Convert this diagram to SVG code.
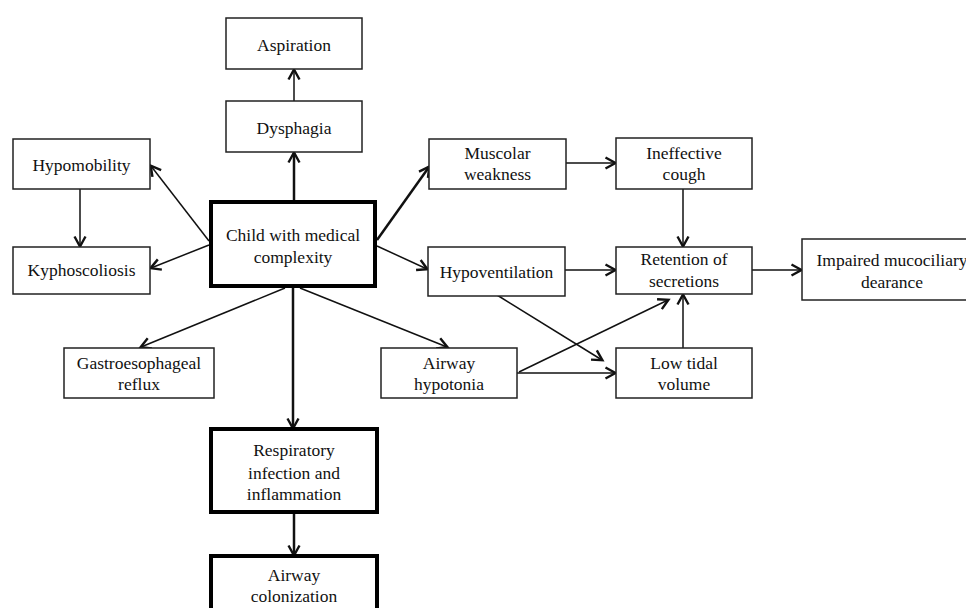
<svg xmlns="http://www.w3.org/2000/svg" width="966" height="608" viewBox="0 0 966 608">
<defs>
<marker id="arr" markerUnits="userSpaceOnUse" markerWidth="14" markerHeight="14" refX="9.5" refY="5.5" orient="auto" overflow="visible">
<path d="M0,0 L10,5.5 L0,11" fill="none" stroke="#111" stroke-width="2.4"/>
</marker>
<style>
.box{fill:#fff;stroke:#222;stroke-width:1.5}
.thick{fill:#fff;stroke:#000;stroke-width:4}
text{font-family:"Liberation Serif","Times New Roman",serif;font-size:17.5px;fill:#111;text-anchor:middle}
.c line{stroke:#111;stroke-width:1.5;marker-end:url(#arr)}
.c line.w{stroke-width:2.5}
</style>
</defs>
<rect width="966" height="608" fill="#fff"/>
<g class="c" id="connectors">
<line x1="294" y1="101" x2="294" y2="70"/>
<line class="w" x1="294" y1="200" x2="294" y2="153"/>
<line x1="80" y1="189" x2="80" y2="246"/>
<line x1="209" y1="241" x2="151" y2="166"/>
<line x1="209" y1="245" x2="151" y2="268"/>
<line class="w" x1="377" y1="240" x2="429" y2="167"/>
<line x1="377" y1="246" x2="427" y2="269"/>
<line x1="285" y1="288" x2="141" y2="347"/>
<line x1="300" y1="288" x2="447" y2="347"/>
<line class="w" x1="293" y1="288" x2="293" y2="428"/>
<line class="w" x1="294" y1="514" x2="294" y2="555"/>
<line x1="566" y1="163" x2="615" y2="163"/>
<line x1="683" y1="189" x2="683" y2="246"/>
<line x1="565" y1="270" x2="615" y2="270"/>
<line x1="752" y1="270" x2="801" y2="270"/>
<line x1="497" y1="295" x2="602" y2="360"/>
<line x1="519" y1="372" x2="668" y2="300"/>
<line x1="517" y1="373" x2="615" y2="373"/>
<line x1="683" y1="348" x2="683" y2="295"/>
</g>
<g id="aspiration"><rect class="box" x="226" y="18" width="136" height="51"/><text x="294" y="51">Aspiration</text></g>
<g id="dysphagia"><rect class="box" x="226" y="101" width="136" height="51"/><text x="294" y="134">Dysphagia</text></g>
<g id="hypomobility"><rect class="box" x="13" y="139" width="137" height="50"/><text x="81.5" y="171">Hypomobility</text></g>
<g id="kyphoscoliosis"><rect class="box" x="13" y="247" width="137" height="47"/><text x="81.5" y="276">Kyphoscoliosis</text></g>
<g id="child"><rect class="thick" x="211" y="202" width="164" height="84"/><text x="293" y="241">Child with medical</text><text x="293" y="263">complexity</text></g>
<g id="muscolar"><rect class="box" x="429" y="139" width="137" height="50"/><text x="497.5" y="159">Muscolar</text><text x="497.5" y="180">weakness</text></g>
<g id="ineffective"><rect class="box" x="616" y="138" width="136" height="51"/><text x="684" y="159">Ineffective</text><text x="684" y="180">cough</text></g>
<g id="hypoventilation"><rect class="box" x="428" y="247" width="137" height="49"/><text x="496.5" y="277.5">Hypoventilation</text></g>
<g id="retention"><rect class="box" x="616" y="247" width="136" height="47"/><text x="684" y="265">Retention of</text><text x="684" y="287">secretions</text></g>
<g id="impaired"><rect class="box" x="802" y="239" width="180" height="61"/><text x="892" y="266">Impaired mucociliary</text><text x="892" y="288">dearance</text></g>
<g id="gastro"><rect class="box" x="64" y="348" width="150" height="50"/><text x="139" y="369">Gastroesophageal</text><text x="139" y="390">reflux</text></g>
<g id="airwayhypotonia"><rect class="box" x="381" y="348" width="136" height="50"/><text x="449" y="369">Airway</text><text x="449" y="390">hypotonia</text></g>
<g id="lowtidal"><rect class="box" x="616" y="348" width="136" height="50"/><text x="684" y="369">Low tidal</text><text x="684" y="390">volume</text></g>
<g id="respiratory"><rect class="thick" x="211" y="429" width="166" height="83"/><text x="294" y="456">Respiratory</text><text x="294" y="478.5">infection and</text><text x="294" y="500">inflammation</text></g>
<g id="colonization"><rect class="thick" x="211" y="556" width="166" height="62"/><text x="294" y="581">Airway</text><text x="294" y="602">colonization</text></g>
</svg>
